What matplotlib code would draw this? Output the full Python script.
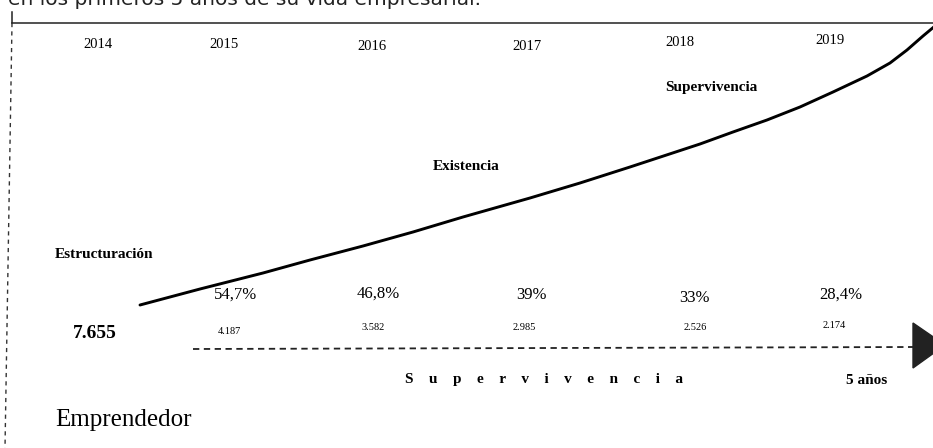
import matplotlib
matplotlib.use("Agg")
import matplotlib.pyplot as plt
from matplotlib.patches import Polygon

# --- data ---
years = ["2014", "2015", "2016", "2017", "2018", "2019"]
survival_pct = ["54,7%", "46,8%", "39%", "33%", "28,4%"]
companies = ["7.655", "4.187", "3.582", "2.985", "2.526", "2.174"]
stages = ["Estructuración", "Existencia", "Supervivencia"]

# growth curve (pixel space)
curve_x = [140, 200, 263, 310, 363, 413, 463, 530, 580, 630, 700,
           733, 767, 800, 833, 867, 890, 907, 923, 935]
curve_y = [305, 289, 273, 260, 246, 232, 217, 198, 183, 167, 144,
           132, 120, 107, 92, 76, 63, 50, 36, 26]

# --- layout (pixels, origin top-left) ---
year_x = [98, 224, 372, 527, 680, 830]
year_y = [45, 45, 47, 47, 43, 40]
pct_x = [236, 378, 531, 694, 841]
pct_y = [295, 294, 295, 298, 295]
comp_x = [95, 229, 373, 524, 695, 834]
comp_y = [333, 332, 328, 327, 327, 325]
stage_xy = [(55, 254), (466, 167), (711, 87)]

serif = "Liberation Serif"

fig = plt.figure(figsize=(9.33, 4.48), dpi=100)
ax = fig.add_axes([0, 0, 1, 1])
ax.set_xlim(0, 933)
ax.set_ylim(448, 0)
ax.axis("off")

# clipped caption line at the very top (cut off in the source too)
ax.text(8, 5, "en los primeros 5 años de su vida empresarial.", fontsize=14.5,
        family="DejaVu Sans", va="baseline", ha="left", color="#222222")

# frame: solid top line, dashed left line
ax.plot([12, 933], [23, 23], color="#222222", lw=1.1)
ax.plot([12, 12], [12, 23], color="#222222", lw=1.1)
ax.plot([12, 5], [23, 448], color="#333333", lw=1.0, ls=(0, (3, 3)))

for x, y, t in zip(year_x, year_y, years):
    ax.text(x, y, t, fontsize=10.5, family=serif, ha="center", va="center")

ax.plot(curve_x, curve_y, color="black", lw=2.1, solid_capstyle="round",
        solid_joinstyle="round")

for (x, y), t in zip(stage_xy, stages):
    ha = "left" if t == "Estructuración" else "center"
    ax.text(x, y, t, fontsize=11, family=serif, weight="bold", ha=ha, va="center")

for x, y, t in zip(pct_x, pct_y, survival_pct):
    ax.text(x, y, t, fontsize=12, family=serif, ha="center", va="center")

for i, (x, y, t) in enumerate(zip(comp_x, comp_y, companies)):
    if i == 0:
        ax.text(x, y, t, fontsize=14, family=serif, weight="bold", ha="center", va="center")
    else:
        ax.text(x, y, t, fontsize=7.5, family=serif, ha="center", va="center")

# dashed timeline with arrow head
ax.plot([193, 913], [349, 347], color="#222222", lw=1.3, ls=(0, (3.5, 2.5)))
ax.add_patch(Polygon([[913, 323], [913, 368], [945, 345]], closed=True,
                     facecolor="#222222", edgecolor="#222222"))

ax.text(405, 380, "    ".join("Supervivencia"), fontsize=11, family=serif,
        weight="bold", ha="left", va="center")
ax.text(867, 381, "5 años", fontsize=11, family=serif, weight="bold",
        ha="center", va="center")

ax.text(55, 420, "Emprendedor", fontsize=18, family=serif, ha="left", va="center")

fig.savefig("out.png", dpi=100)
